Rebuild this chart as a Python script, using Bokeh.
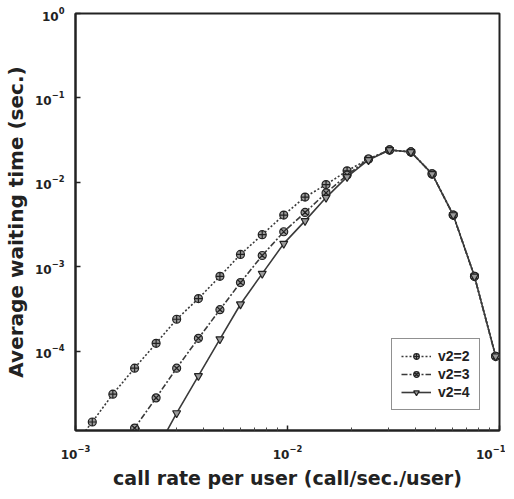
from bokeh.plotting import figure
from bokeh.models import Range1d, Legend, LegendItem, FixedTicker, LogTickFormatter
from bokeh.embed import file_html
from bokeh.resources import INLINE

# call rate per user (call/sec./user)
x_rate = [9.5e-4, 1.2e-3, 1.5e-3, 1.9e-3, 2.4e-3, 3.0e-3, 3.8e-3, 4.8e-3, 6.0e-3, 7.6e-3,
          9.6e-3, 1.21e-2, 1.52e-2, 1.91e-2, 2.41e-2, 3.03e-2, 3.82e-2, 4.81e-2,
          6.05e-2, 7.62e-2, 9.59e-2]

# average waiting time (sec.)
wait_v2_2 = [6.8e-6, 1.45e-5, 3.1e-5, 6.3e-5, 1.24e-4, 2.39e-4, 4.2e-4, 7.7e-4, 1.40e-3,
             2.40e-3, 4.1e-3, 6.7e-3, 9.4e-3, 1.37e-2, 1.89e-2, 2.42e-2, 2.29e-2,
             1.26e-2, 4.1e-3, 7.7e-4, 8.7e-5]
wait_v2_3 = [None, None, 5.5e-6, 1.23e-5, 2.8e-5, 6.3e-5, 1.42e-4, 3.1e-4, 6.5e-4,
             1.36e-3, 2.6e-3, 4.4e-3, 7.5e-3, 1.22e-2, 1.89e-2, 2.42e-2, 2.29e-2,
             1.26e-2, 4.1e-3, 7.7e-4, 8.7e-5]
wait_v2_4 = [None, None, None, None, 6.6e-6, 1.85e-5, 5.1e-5, 1.39e-4, 3.6e-4,
             8.3e-4, 1.88e-3, 3.5e-3, 6.6e-3, 1.16e-2, 1.84e-2, 2.42e-2, 2.29e-2,
             1.26e-2, 4.1e-3, 7.7e-4, 8.7e-5]

labels = ["v2=2", "v2=3", "v2=4"]
x_title = "call rate per user (call/sec./user)"
y_title = "Average waiting time (sec.)"

x_ticks = [1e-3, 1e-2, 1e-1]
y_ticks = [1e-4, 1e-3, 1e-2, 1e-1, 1e0]
x_minor = [m * d for d in (1e-3, 1e-2) for m in range(2, 10)]

FONT = "DejaVu Sans"
INK = "#222222"

p = figure(width=505, height=491, x_axis_type="log", y_axis_type="log",
           x_range=Range1d(1e-3, 1e-1), y_range=Range1d(1.15e-5, 1.0),
           output_backend="svg", toolbar_location=None,
           min_border_left=68, min_border_top=13, min_border_right=6,
           min_border_bottom=58)
p.background_fill_color = "white"
p.border_fill_color = "white"
p.outline_line_color = INK
p.outline_line_width = 2
p.xgrid.visible = False
p.ygrid.visible = False

p.xaxis[0].ticker = FixedTicker(ticks=x_ticks, minor_ticks=x_minor)
p.yaxis[0].ticker = FixedTicker(ticks=y_ticks, minor_ticks=[])
p.xaxis[0].formatter = LogTickFormatter()
p.yaxis[0].formatter = LogTickFormatter()

for ax in (p.xaxis[0], p.yaxis[0]):
    ax.major_tick_in = 5
    ax.major_tick_out = 0
    ax.minor_tick_out = 0
    ax.axis_line_color = INK
    ax.axis_line_width = 2
    ax.major_tick_line_color = INK
    ax.major_tick_line_width = 1.5
    ax.minor_tick_line_color = "#444444"
    ax.major_label_text_font = FONT
    ax.major_label_text_font_style = "bold"
    ax.major_label_text_font_size = "12px"
    ax.major_label_text_color = INK
    ax.axis_label_text_font = FONT
    ax.axis_label_text_font_style = "bold"
    ax.axis_label_text_color = INK

p.xaxis[0].minor_tick_in = 3
p.yaxis[0].minor_tick_in = 0
p.xaxis[0].axis_label = x_title
p.yaxis[0].axis_label = y_title
p.xaxis[0].axis_label_text_font_size = "19px"
p.yaxis[0].axis_label_text_font_size = "20px"
p.xaxis[0].major_label_standoff = 14
p.xaxis[0].axis_label_standoff = 5
p.yaxis[0].major_label_standoff = 11
p.yaxis[0].axis_label_standoff = 4

series = [wait_v2_2, wait_v2_3, wait_v2_4]
dashes = ["2 2", "6 2 2 2", "solid"]
markers = ["circle_cross", "circle_x", "inverted_triangle"]
items = []
for lab, ys, dash, mk in zip(labels, series, dashes, markers):
    xs = [x for x, y in zip(x_rate, ys) if y is not None]
    yv = [y for y in ys if y is not None]
    r1 = p.line(xs, yv, line_color="#3a3a3a", line_width=1.6, line_dash=dash)
    r2 = p.scatter(xs, yv, marker=mk, size=8, fill_color="#9a9a9a",
                   line_color=INK, line_width=1.2)
    items.append(LegendItem(label=lab, renderers=[r1, r2]))

legend = Legend(items=items, location=(316, 20))
legend.label_text_font = "Liberation Sans"
legend.label_text_font_style = "bold"
legend.label_text_font_size = "14px"
legend.label_text_color = INK
legend.border_line_color = INK
legend.border_line_width = 1.5
legend.glyph_width = 30
legend.glyph_height = 14
legend.label_height = 14
legend.spacing = 2
legend.padding = 9
legend.label_standoff = 7
legend.background_fill_alpha = 1
p.add_layout(legend, "center")

open("out.html", "w").write(file_html(p, INLINE))
